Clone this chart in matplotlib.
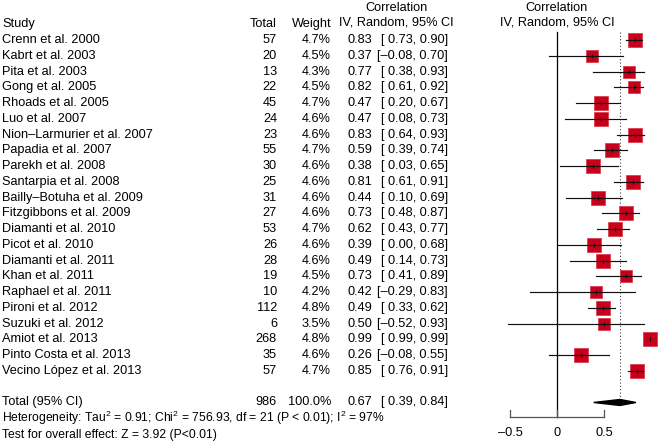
#forest plot of correlations, random effects model

import numpy as np
import matplotlib
matplotlib.use('Agg')
import matplotlib.pyplot as plt
import matplotlib.transforms as mtransforms

plt.rcParams['font.family'] = ['Liberation Sans', 'DejaVu Sans']
plt.rcParams['mathtext.fontset'] = 'custom'
plt.rcParams['mathtext.rm'] = 'Liberation Sans'
plt.rcParams['mathtext.it'] = 'Liberation Sans:italic'

# --- data ---
studies = ['Crenn et al. 2000', 'Kabrt et al. 2003', 'Pita et al. 2003', 'Gong et al. 2005',
           'Rhoads et al. 2005', 'Luo et al. 2007', 'Nion\u2013Larmurier et al. 2007',
           'Papadia et al. 2007', 'Parekh et al. 2008', 'Santarpia et al. 2008',
           'Bailly\u2013Botuha et al. 2009', 'Fitzgibbons et al. 2009', 'Diamanti et al. 2010',
           'Picot et al. 2010', 'Diamanti et al. 2011', 'Khan et al. 2011', 'Raphael et al. 2011',
           'Pironi et al. 2012', 'Suzuki et al. 2012', 'Amiot et al. 2013',
           'Pinto Costa et al. 2013', 'Vecino López et al. 2013']
totals = [57, 20, 13, 22, 45, 24, 23, 55, 30, 25, 31, 27, 53, 26, 28, 19, 10, 112, 6, 268, 35, 57]
weights = [4.7, 4.5, 4.3, 4.5, 4.7, 4.6, 4.6, 4.7, 4.6, 4.6, 4.6, 4.6, 4.7, 4.6, 4.6, 4.5, 4.2,
           4.8, 3.5, 4.8, 4.6, 4.7]
corr = [0.83, 0.37, 0.77, 0.82, 0.47, 0.47, 0.83, 0.59, 0.38, 0.81, 0.44, 0.73, 0.62, 0.39,
        0.49, 0.73, 0.42, 0.49, 0.50, 0.99, 0.26, 0.85]
ci_low = [0.73, -0.08, 0.38, 0.61, 0.20, 0.08, 0.64, 0.39, 0.03, 0.61, 0.10, 0.48, 0.43, 0.00,
          0.14, 0.41, -0.29, 0.33, -0.52, 0.99, -0.08, 0.76]
ci_high = [0.90, 0.70, 0.93, 0.92, 0.67, 0.73, 0.93, 0.74, 0.65, 0.91, 0.69, 0.87, 0.77, 0.68,
           0.73, 0.89, 0.83, 0.62, 0.93, 0.99, 0.55, 0.91]

total_n = 986
pooled = 0.67
pooled_low = 0.39
pooled_high = 0.84
het_text = 'Heterogeneity: Tau$^2$ = 0.91; Chi$^2$ = 756.93, df = 21 (P < 0.01); I$^2$ = 97%'
test_text = 'Test for overall effect: Z = 3.92 (P<0.01)'
xticks = [-0.5, 0, 0.5]


def fmt(v):
    # R style number with en dash for minus
    s = f'{v:.2f}'
    return s.replace('-', '\u2013')


def fmt_ci(lo, hi):
    lo_s = fmt(lo) if lo < 0 else ' ' + fmt(lo)
    return f'[{lo_s}, {fmt(hi)}]'


# --- plotting ---
W, H = 659, 443
fig = plt.figure(figsize=(W / 100, H / 100), dpi=100)
ax = fig.add_axes([0, 0, 1, 1])
ax.axis('off')

# pixel mapping: x=0 at 557 px, 94 px per unit; row 0 at 40 px, 15.76 px per row
x0, xs = 557, 94
y0, ys = 40, 15.76
ax.set_xlim((0 - x0) / xs, (W - x0) / xs)
ax.set_ylim((H - y0) / ys, (0 - y0) / ys)

tr = mtransforms.blended_transform_factory(ax.transAxes, ax.transData)
fs = 9.2


def px(x):
    return x / W


n = len(studies)
rows = np.arange(n)
total_row = n + 1
axis_y = total_row + 0.92

# text columns
ax.text(px(2), -1.02, 'Study', transform=tr, fontsize=fs, va='center', ha='left')
ax.text(px(277), -1.02, 'Total', transform=tr, fontsize=fs, va='center', ha='right')
ax.text(px(332), -1.02, 'Weight', transform=tr, fontsize=fs, va='center', ha='right')
ax.text(px(397), -2.03, 'Correlation', transform=tr, fontsize=fs, va='center', ha='center')
ax.text(px(396), -1.08, 'IV, Random, 95% CI', transform=tr, fontsize=fs, va='center', ha='center')
ax.text(0, -2.03, 'Correlation', fontsize=fs, va='center', ha='center')
ax.text(0, -1.08, 'IV, Random, 95% CI', fontsize=fs, va='center', ha='center')

for i in rows:
    ax.text(px(2), i, studies[i], transform=tr, fontsize=fs, va='center', ha='left')
    ax.text(px(277), i, str(totals[i]), transform=tr, fontsize=fs, va='center', ha='right')
    ax.text(px(331), i, f'{weights[i]:.1f}%', transform=tr, fontsize=fs, va='center', ha='right')
    ax.text(px(372), i, fmt(corr[i]), transform=tr, fontsize=fs, va='center', ha='right')
    ax.text(px(448), i, fmt_ci(ci_low[i], ci_high[i]), transform=tr, fontsize=fs,
            va='center', ha='right')

ax.text(px(2), total_row, 'Total (95% CI)', transform=tr, fontsize=fs, va='center', ha='left')
ax.text(px(277), total_row, str(total_n), transform=tr, fontsize=fs, va='center', ha='right')
ax.text(px(331), total_row, '100.0%', transform=tr, fontsize=fs, va='center', ha='right')
ax.text(px(372), total_row, fmt(pooled), transform=tr, fontsize=fs, va='center', ha='right')
ax.text(px(448), total_row, fmt_ci(pooled_low, pooled_high), transform=tr, fontsize=fs,
        va='center', ha='right')
ax.text(px(2), total_row + 1.0, het_text, transform=tr, fontsize=8.7, va='center', ha='left')
ax.text(px(2), total_row + 2.08, test_text, transform=tr, fontsize=8.7, va='center', ha='left')

# reference lines
ax.plot([0, 0], [-0.51, axis_y], color='black', lw=0.9, zorder=1)
ax.plot([pooled, pooled], [-0.51, total_row - 0.2], color='#444444', lw=0.8,
        linestyle=(0, (1, 2)), zorder=1)

# squares and CIs
for i in rows:
    ms = 9.5 * np.sqrt(weights[i] / 4.7)
    ax.plot(corr[i], i, marker='s', markersize=ms, color='#C8001C',
            markeredgecolor='#D9404F', markeredgewidth=0.6, zorder=3, clip_on=False)
    ax.plot([ci_low[i], ci_high[i]], [i, i], color='#111111', lw=0.85, zorder=4)
    ax.plot(corr[i], i, marker='|', markersize=3, color='#111111', mew=0.8, zorder=5)

# pooled diamond
dh = 0.19
ax.fill([pooled_low, pooled, pooled_high, pooled], [total_row, total_row - dh, total_row,
        total_row + dh], color='black', zorder=3)

# x axis
ax.plot([xticks[0], xticks[-1]], [axis_y, axis_y], color='#555555', lw=0.9)
for t in xticks:
    ax.plot([t, t], [axis_y, axis_y - 0.45], color='#555555', lw=0.9)
    lab = '0' if t == 0 else f'{t:.1f}'.replace('-', '\u2013')
    ax.text(t, axis_y + 1.0, lab, fontsize=fs, va='center', ha='center')

fig.savefig('out.png', dpi=100)
